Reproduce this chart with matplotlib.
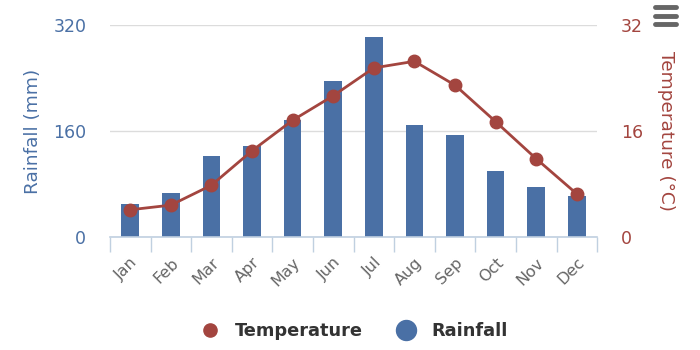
import matplotlib
matplotlib.use("Agg")
import matplotlib.pyplot as plt
from matplotlib.lines import Line2D
import numpy as np

months = ["Jan", "Feb", "Mar", "Apr", "May", "Jun", "Jul", "Aug", "Sep", "Oct", "Nov", "Dec"]
rainfall = [50, 67, 122, 137, 177, 236, 302, 169, 154, 100, 75, 62]
temperature = [4.1, 4.8, 7.8, 13.0, 17.6, 21.3, 25.5, 26.5, 22.9, 17.4, 11.8, 6.5]
rain_ticks = [0, 160, 320]
temp_ticks = [0, 16, 32]

blue = "#4a70a5"
red = "#a3453f"

fig = plt.figure(figsize=(7, 3.5), dpi=100)
ax = fig.add_axes([0.157, 0.323, 0.696, 0.606])
x = np.arange(len(months))
ax.bar(x, rainfall, width=0.43, color=blue, zorder=2)
ax.set_xlim(-0.5, 11.5)
ax.set_ylim(0, 320)
ax.set_yticks(rain_ticks)
ax.grid(axis="y", color="#dcdcdc", linewidth=1, zorder=0)
ax.set_axisbelow(True)
for s in ["top", "right", "left"]:
    ax.spines[s].set_visible(False)
ax.spines["bottom"].set_color("#c0d0e0")
ax.spines["bottom"].set_linewidth(1.2)
ax.set_xticks(np.arange(-0.5, 12, 1), minor=False)
ax.set_xticklabels([])
ax.tick_params(axis="x", which="major", length=11, color="#c0d0e0", width=1)
ax.set_xticks(x, minor=True)
ax.set_xticklabels(months, minor=True, rotation=45, ha="right", rotation_mode="anchor",
                   fontsize=11.5, color="#666666")
ax.tick_params(axis="x", which="minor", length=0, pad=13)
ax.tick_params(axis="y", length=0, labelsize=12.5, labelcolor=blue, pad=17)
ax.set_ylabel("Rainfall (mm)", color=blue, fontsize=13.3, labelpad=8)

ax2 = ax.twinx()
ax2.plot(x, temperature, color=red, linewidth=2, marker="o", markersize=9, zorder=3)
ax2.set_ylim(0, 32)
ax2.set_yticks(temp_ticks)
for s in ax2.spines.values():
    s.set_visible(False)
ax2.tick_params(axis="y", length=0, labelsize=12.5, labelcolor=red, pad=17)
ax2.set_ylabel("Temperature (°C)", color=red, fontsize=13.3, rotation=270, labelpad=23)

# legend
h1 = Line2D([], [], marker="o", color="none", markerfacecolor=red, markeredgecolor=red, markersize=9.5)
h2 = Line2D([], [], marker="o", color="none", markerfacecolor=blue, markeredgecolor=blue, markersize=14.4)
fig.legend([h1, h2], ["Temperature", "Rainfall"], loc="center", bbox_to_anchor=(0.5, 0.055),
           ncol=2, frameon=False, prop={"weight": "bold", "size": 12.8}, labelcolor="#333333",
           handletextpad=0.4, columnspacing=1.45)

# context menu icon
for yy in [0.979, 0.955, 0.931]:
    fig.add_artist(Line2D([0.936, 0.966], [yy, yy], color="#666666", linewidth=3.5,
                          solid_capstyle="round"))

fig.savefig("out.png", dpi=100)
